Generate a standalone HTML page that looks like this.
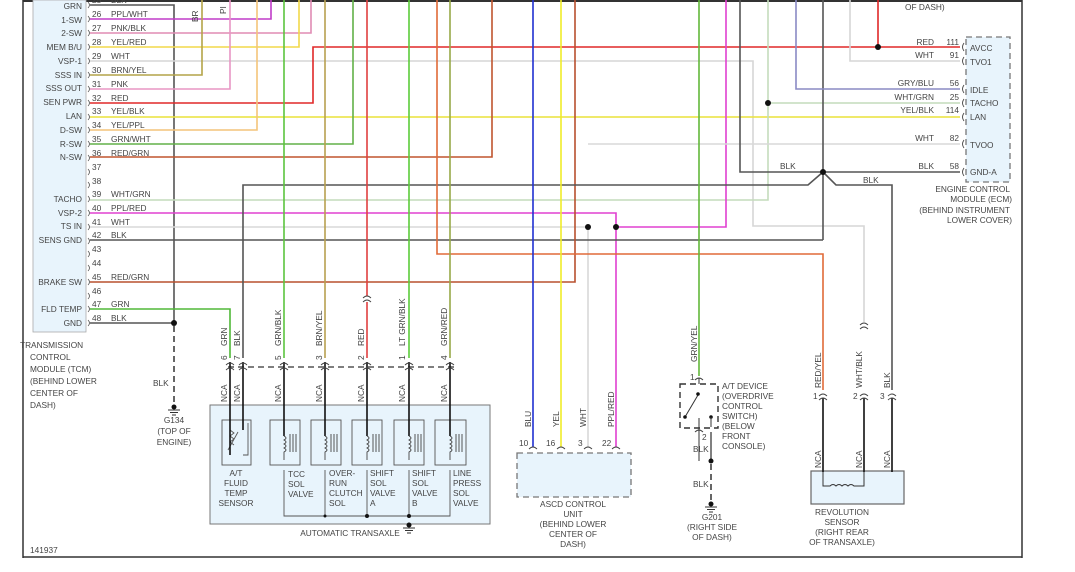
<!DOCTYPE html>
<html><head><meta charset="utf-8"><style>
html,body{margin:0;padding:0;background:#fff;}
svg{display:block;font-family:"Liberation Sans",sans-serif;}
text{font-size:8.3px;fill:#444;}
</style></head><body>
<svg width="1075" height="572" viewBox="0 0 1075 572" xmlns="http://www.w3.org/2000/svg">
<line x1="23" y1="1" x2="1022" y2="1" stroke="#333" stroke-width="2"/>
<line x1="23" y1="0" x2="23" y2="558" stroke="#333" stroke-width="1.5"/>
<line x1="1022" y1="0" x2="1022" y2="558" stroke="#333" stroke-width="1.5"/>
<line x1="23" y1="557" x2="1022" y2="557" stroke="#333" stroke-width="1.5"/>
<text x="30" y="553">141937</text>
<rect x="33" y="0" width="53" height="332" fill="#e8f4fc" stroke="#aaa" stroke-width="0.8"/>
<g text-anchor="end">
<text x="82" y="9">GRN</text><text x="82" y="23">1-SW</text><text x="82" y="36">2-SW</text><text x="82" y="50">MEM B/U</text><text x="82" y="64">VSP-1</text><text x="82" y="78">SSS IN</text><text x="82" y="91">SSS OUT</text><text x="82" y="105">SEN PWR</text><text x="82" y="119">LAN</text><text x="82" y="133">D-SW</text><text x="82" y="147">R-SW</text><text x="82" y="160">N-SW</text><text x="82" y="202">TACHO</text><text x="82" y="216">VSP-2</text><text x="82" y="229">TS IN</text><text x="82" y="243">SENS GND</text><text x="82" y="285">BRAKE SW</text><text x="82" y="312">FLD TEMP</text><text x="82" y="326">GND</text>
</g>
<g>
<text x="92" y="3">25</text><text x="111" y="3">BLK</text>
<text x="92" y="17">26</text><text x="111" y="17">PPL/WHT</text>
<text x="92" y="31">27</text><text x="111" y="31">PNK/BLK</text>
<text x="92" y="45">28</text><text x="111" y="45">YEL/RED</text>
<text x="92" y="59">29</text><text x="111" y="59">WHT</text>
<text x="92" y="73">30</text><text x="111" y="73">BRN/YEL</text>
<text x="92" y="87">31</text><text x="111" y="87">PNK</text>
<text x="92" y="101">32</text><text x="111" y="101">RED</text>
<text x="92" y="114">33</text><text x="111" y="114">YEL/BLK</text>
<text x="92" y="128">34</text><text x="111" y="128">YEL/PPL</text>
<text x="92" y="142">35</text><text x="111" y="142">GRN/WHT</text>
<text x="92" y="156">36</text><text x="111" y="156">RED/GRN</text>
<text x="92" y="170">37</text><text x="92" y="184">38</text>
<text x="92" y="197">39</text><text x="111" y="197">WHT/GRN</text>
<text x="92" y="211">40</text><text x="111" y="211">PPL/RED</text>
<text x="92" y="225">41</text><text x="111" y="225">WHT</text>
<text x="92" y="238">42</text><text x="111" y="238">BLK</text>
<text x="92" y="252">43</text><text x="92" y="266">44</text>
<text x="92" y="280">45</text><text x="111" y="280">RED/GRN</text>
<text x="92" y="294">46</text>
<text x="92" y="307">47</text><text x="111" y="307">GRN</text>
<text x="92" y="321">48</text><text x="111" y="321">BLK</text>
</g>
<g fill="none" stroke="#555" stroke-width="0.8">
<path d="M88,2 q3,3 0,6 M88,16 q3,3 0,6 M88,30 q3,3 0,6 M88,44 q3,3 0,6 M88,58 q3,3 0,6 M88,72 q3,3 0,6 M88,86 q3,3 0,6 M88,100 q3,3 0,6 M88,114 q3,3 0,6 M88,127 q3,3 0,6 M88,141 q3,3 0,6 M88,155 q3,3 0,6 M88,169 q3,3 0,6 M88,182 q3,3 0,6 M88,196 q3,3 0,6 M88,210 q3,3 0,6 M88,224 q3,3 0,6 M88,238 q3,3 0,6 M88,251 q3,3 0,6 M88,265 q3,3 0,6 M88,279 q3,3 0,6 M88,293 q3,3 0,6 M88,306 q3,3 0,6 M88,320 q3,3 0,6"/>
</g>
<text x="20" y="348">TRANSMISSION</text><text x="30" y="360">CONTROL</text><text x="30" y="372">MODULE (TCM)</text><text x="30" y="384">(BEHIND LOWER</text><text x="30" y="396">CENTER OF</text><text x="30" y="408">DASH)</text>

<g fill="none" stroke-width="1.6">
<path d="M90,5 H174 V323" stroke="#555"/>
<path d="M90,323 H172" stroke="#555"/>
<path d="M90,19 H271 V0" stroke="#c03cc8"/>
<path d="M90,33 H311 V0" stroke="#e08cb4"/>
<path d="M90,47 H299 V0" stroke="#f2d84a"/>
<path d="M90,61 H753 V226 H864 V322" stroke="#d6d6d6"/>
<path d="M90,75 H202 V0" stroke="#b4a448"/>
<path d="M90,89 H230 V0" stroke="#e896c4"/>
<path d="M90,103 H313 V47 H960" stroke="#e02828"/>
<path d="M878,47 V0" stroke="#e02828"/>
<path d="M90,117 H960" stroke="#eae23a"/>
<path d="M90,130 H257 V0" stroke="#f4c47a"/>
<path d="M90,144 H353 V0" stroke="#62b048"/>
<path d="M90,157 H492 V0" stroke="#c0552e"/>
<path d="M90,200 H768 V103 H960 M768,103 V0" stroke="#c4dcbc"/>
<path d="M90,213 H616 V447" stroke="#e040d0"/>
<path d="M616,227 H726 V0" stroke="#e040d0"/>
<path d="M90,227 H588 V447 M588,144 H960" stroke="#d8d8d8"/>
<path d="M90,240 H823" stroke="#555"/>
<path d="M90,282 H575 V0" stroke="#b8502e"/>
<path d="M90,309 H230 V358" stroke="#50b838"/>
<path d="M243,358 V185 H808 L823,172 L836,185 H892 V390" stroke="#555"/>
<path d="M740,0 V172 H960 M823,0 V240" stroke="#555"/>
<path d="M796,0 V89 H960" stroke="#8a8ac4"/>
<path d="M850,0 V61 H960" stroke="#d6d6d6"/>
<path d="M437,0 V254 H823 V390" stroke="#e06a38"/>
<path d="M367,0 V296 M367,302 V358" stroke="#e04040"/>
<path d="M409,0 V358" stroke="#5ccc3a"/>
<path d="M450,0 V358" stroke="#98a848"/>
<path d="M284,0 V358" stroke="#5cc43e"/>
<path d="M325,0 V358" stroke="#b8a050"/>
<path d="M533,0 V447" stroke="#2030d0"/>
<path d="M561,0 V447" stroke="#f0ec28"/>
<path d="M699,0 V376" stroke="#62b83a"/>
</g>
<g fill="#111">
<circle cx="174" cy="323" r="3"/><circle cx="878" cy="47" r="3"/><circle cx="768" cy="103" r="3"/>
<circle cx="823" cy="172" r="3"/><circle cx="588" cy="227" r="3"/><circle cx="616" cy="227" r="3"/>
</g>
<text transform="translate(198,22) rotate(-90)">BR</text>
<text transform="translate(226,14) rotate(-90)">PI</text>
<text x="905" y="10">OF DASH)</text>

<line x1="174" y1="326" x2="174" y2="408" stroke="#333" stroke-width="1.5" stroke-dasharray="6,4"/>
<text x="153" y="386">BLK</text>
<circle cx="174" cy="407" r="2.5" fill="#111"/>
<path d="M168,410 H180 M170,412.5 H178 M172,415 H176" stroke="#333"/>
<g text-anchor="middle"><text x="174" y="423">G134</text><text x="174" y="434">(TOP OF</text><text x="174" y="445">ENGINE)</text></g>

<line x1="228" y1="367" x2="455" y2="367" stroke="#555" stroke-width="1.5" stroke-dasharray="6,4"/>
<rect x="210" y="405" width="280" height="119" fill="#e8f4fc" stroke="#777" stroke-width="1"/>
<g fill="none" stroke="#555" stroke-width="0.9">
<rect x="222" y="420" width="29" height="45"/><rect x="270" y="420" width="30" height="45"/><rect x="311" y="420" width="30" height="45"/><rect x="352" y="420" width="30" height="45"/><rect x="394" y="420" width="30" height="45"/><rect x="435" y="420" width="31" height="45"/>
<path d="M284,470 V516 H450 V470 M325,470 V516 M367,470 V516 M409,470 V516"/>
<path d="M243,455 H248 V423 M230,430 l4,3 -4,3 4,3 -4,3 4,3 M228,450 l10,-18"/>
</g>
<g fill="none" stroke="#111" stroke-width="1.6">
<path d="M230,362 V455 M243,362 V430 M284,362 V436 M325,362 V436 M367,362 V436 M409,362 V436 M450,362 V436"/>
</g>
<g fill="none" stroke="#444" stroke-width="0.9">
<path d="M284,436 q4,2 0,4 q4,2 0,4 q4,2 0,4 q4,2 0,4 V460 M290,434 V452 M293,434 V452 M296,434 V452"/>
<path d="M325,436 q4,2 0,4 q4,2 0,4 q4,2 0,4 q4,2 0,4 V460 M331,434 V452 M334,434 V452 M337,434 V452"/>
<path d="M367,436 q4,2 0,4 q4,2 0,4 q4,2 0,4 q4,2 0,4 V460 M373,434 V452 M376,434 V452 M379,434 V452"/>
<path d="M409,436 q4,2 0,4 q4,2 0,4 q4,2 0,4 q4,2 0,4 V460 M415,434 V452 M418,434 V452 M421,434 V452"/>
<path d="M450,436 q4,2 0,4 q4,2 0,4 q4,2 0,4 q4,2 0,4 V460 M456,434 V452 M459,434 V452 M462,434 V452"/>
</g>
<g fill="none" stroke="#444" stroke-width="0.9">
<path d="M226,365 q4,-4 8,0 M239,365 q4,-4 8,0 M280,365 q4,-4 8,0 M321,365 q4,-4 8,0 M363,365 q4,-4 8,0 M405,365 q4,-4 8,0 M446,365 q4,-4 8,0"/>
<path d="M226,370 q4,-4 8,0 M239,370 q4,-4 8,0 M280,370 q4,-4 8,0 M321,370 q4,-4 8,0 M363,370 q4,-4 8,0 M405,370 q4,-4 8,0 M446,370 q4,-4 8,0"/>
<path d="M363,298 q4,-4 8,0 M363,302 q4,-4 8,0"/>
</g>
<g fill="#111"><circle cx="367" cy="516" r="2"/><circle cx="409" cy="516" r="2"/><circle cx="325" cy="516" r="1.5"/><circle cx="409" cy="525" r="2.5"/></g>
<path d="M403,528 H415 M405,530.5 H413 M407,533 H411" stroke="#333"/>
<g>
<text transform="translate(227,360) rotate(-90)">6</text><text transform="translate(240,360) rotate(-90)">7</text><text transform="translate(281,360) rotate(-90)">5</text><text transform="translate(322,360) rotate(-90)">3</text><text transform="translate(364,360) rotate(-90)">2</text><text transform="translate(405,360) rotate(-90)">1</text><text transform="translate(447,360) rotate(-90)">4</text>
<text transform="translate(227,346) rotate(-90)">GRN</text><text transform="translate(240,346) rotate(-90)">BLK</text><text transform="translate(281,346) rotate(-90)">GRN/BLK</text><text transform="translate(322,346) rotate(-90)">BRN/YEL</text><text transform="translate(364,346) rotate(-90)">RED</text><text transform="translate(405,346) rotate(-90)">LT GRN/BLK</text><text transform="translate(447,346) rotate(-90)">GRN/RED</text>
<text transform="translate(227,402) rotate(-90)">NCA</text><text transform="translate(240,402) rotate(-90)">NCA</text><text transform="translate(281,402) rotate(-90)">NCA</text><text transform="translate(322,402) rotate(-90)">NCA</text><text transform="translate(364,402) rotate(-90)">NCA</text><text transform="translate(405,402) rotate(-90)">NCA</text><text transform="translate(447,402) rotate(-90)">NCA</text>
</g>
<g text-anchor="middle"><text x="236" y="476">A/T</text><text x="236" y="486">FLUID</text><text x="236" y="496">TEMP</text><text x="236" y="506">SENSOR</text></g>
<text x="288" y="477">TCC</text><text x="288" y="487">SOL</text><text x="288" y="497">VALVE</text>
<text x="329" y="476">OVER-</text><text x="329" y="486">RUN</text><text x="329" y="496">CLUTCH</text><text x="329" y="506">SOL</text>
<text x="370" y="476">SHIFT</text><text x="370" y="486">SOL</text><text x="370" y="496">VALVE</text><text x="370" y="506">A</text>
<text x="412" y="476">SHIFT</text><text x="412" y="486">SOL</text><text x="412" y="496">VALVE</text><text x="412" y="506">B</text>
<text x="453" y="476">LINE</text><text x="453" y="486">PRESS</text><text x="453" y="496">SOL</text><text x="453" y="506">VALVE</text>
<text x="350" y="536" text-anchor="middle">AUTOMATIC TRANSAXLE</text>

<rect x="517" y="453" width="114" height="44" fill="#e8f4fc" stroke="#777" stroke-width="1.3" stroke-dasharray="6,4"/>
<g fill="none" stroke="#444" stroke-width="0.9"><path d="M529,449 q4,-4 8,0 M557,449 q4,-4 8,0 M584,449 q4,-4 8,0 M612,449 q4,-4 8,0"/></g>
<text x="519" y="446">10</text><text x="546" y="446">16</text><text x="578" y="446">3</text><text x="602" y="446">22</text>
<text transform="translate(531,427) rotate(-90)">BLU</text><text transform="translate(559,427) rotate(-90)">YEL</text><text transform="translate(586,427) rotate(-90)">WHT</text><text transform="translate(614,427) rotate(-90)">PPL/RED</text>
<g text-anchor="middle"><text x="573" y="507">ASCD CONTROL</text><text x="573" y="517">UNIT</text><text x="573" y="527">(BEHIND LOWER</text><text x="573" y="537">CENTER OF</text><text x="573" y="547">DASH)</text></g>

<rect x="680" y="384" width="38" height="44" fill="none" stroke="#333" stroke-width="1.4" stroke-dasharray="6,4"/>
<path d="M695,380 q4,-4 8,0 M695,432 q4,-4 8,0" fill="none" stroke="#444"/>
<path d="M699,378 L699,384 M685,417 L698,395 M699,418 V461" stroke="#333" fill="none"/>
<circle cx="698" cy="394" r="1.8" fill="#111"/><circle cx="685" cy="417" r="1.8" fill="#111"/><circle cx="711" cy="417" r="1.8" fill="#111"/>
<path d="M711,417 V427" stroke="#333"/>
<line x1="711" y1="464" x2="711" y2="505" stroke="#333" stroke-width="1.5" stroke-dasharray="6,4"/>
<path d="M711,432 V461" stroke="#555" stroke-width="1.5"/>
<circle cx="711" cy="461" r="2.5" fill="#111"/><circle cx="711" cy="504" r="2.5" fill="#111"/>
<path d="M705,507 H717 M707,509.5 H715 M709,512 H713" stroke="#333"/>
<text transform="translate(697,362) rotate(-90)">GRN/YEL</text>
<text x="690" y="380">1</text><text x="702" y="440">2</text><text x="693" y="452">BLK</text><text x="693" y="487">BLK</text>
<text x="722" y="389">A/T DEVICE</text><text x="722" y="399">(OVERDRIVE</text><text x="722" y="409">CONTROL</text><text x="722" y="419">SWITCH)</text><text x="722" y="429">(BELOW</text><text x="722" y="439">FRONT</text><text x="722" y="449">CONSOLE)</text>
<g text-anchor="middle"><text x="712" y="520">G201</text><text x="712" y="530">(RIGHT SIDE</text><text x="712" y="540">OF DASH)</text></g>

<rect x="811" y="471" width="93" height="33" fill="#e8f4fc" stroke="#666" stroke-width="1.2"/>
<g fill="none" stroke="#111" stroke-width="1.6"><path d="M823,398 V472 M864,398 V472 M892,398 V472"/></g>
<path d="M823,472 V486 H830 q3,-3 6,0 q3,-3 6,0 q3,-3 6,0 q3,-3 6,0 H864 V472" fill="none" stroke="#333"/>
<g fill="none" stroke="#444" stroke-width="0.9"><path d="M819,396 q4,-4 8,0 M819,400 q4,-4 8,0 M860,396 q4,-4 8,0 M860,400 q4,-4 8,0 M888,396 q4,-4 8,0 M888,400 q4,-4 8,0 M860,325 q4,-4 8,0 M860,329 q4,-4 8,0"/></g>
<text x="813" y="399">1</text><text x="853" y="399">2</text><text x="880" y="399">3</text>
<text transform="translate(821,388) rotate(-90)">RED/YEL</text><text transform="translate(862,388) rotate(-90)">WHT/BLK</text><text transform="translate(890,388) rotate(-90)">BLK</text>
<text transform="translate(821,468) rotate(-90)">NCA</text><text transform="translate(862,468) rotate(-90)">NCA</text><text transform="translate(890,468) rotate(-90)">NCA</text>
<g text-anchor="middle"><text x="842" y="515">REVOLUTION</text><text x="842" y="525">SENSOR</text><text x="842" y="535">(RIGHT REAR</text><text x="842" y="545">OF TRANSAXLE)</text></g>

<rect x="966" y="37" width="44" height="145" fill="#e8f4fc" stroke="#777" stroke-width="1.3" stroke-dasharray="6,4"/>
<g fill="none" stroke="#444" stroke-width="0.9"><path d="M964,43 q-3,4 0,8 M964,57 q-3,4 0,8 M964,85 q-3,4 0,8 M964,99 q-3,4 0,8 M964,113 q-3,4 0,8 M964,140 q-3,4 0,8 M964,168 q-3,4 0,8"/></g>
<text x="970" y="51">AVCC</text><text x="970" y="65">TVO1</text><text x="970" y="93">IDLE</text><text x="970" y="106">TACHO</text><text x="970" y="120">LAN</text><text x="970" y="148">TVOO</text><text x="970" y="175">GND-A</text>
<g text-anchor="end"><text x="959" y="45">111</text><text x="959" y="58">91</text><text x="959" y="86">56</text><text x="959" y="100">25</text><text x="959" y="113">114</text><text x="959" y="141">82</text><text x="959" y="169">58</text>
<text x="934" y="45">RED</text><text x="934" y="58">WHT</text><text x="934" y="86">GRY/BLU</text><text x="934" y="100">WHT/GRN</text><text x="934" y="113">YEL/BLK</text><text x="934" y="141">WHT</text><text x="934" y="169">BLK</text></g>
<text x="780" y="169">BLK</text><text x="863" y="183">BLK</text>
<g text-anchor="end"><text x="1010" y="192">ENGINE CONTROL</text><text x="1012" y="202">MODULE (ECM)</text><text x="1010" y="213">(BEHIND INSTRUMENT</text><text x="1012" y="223">LOWER COVER)</text></g>
</svg>
</body></html>
